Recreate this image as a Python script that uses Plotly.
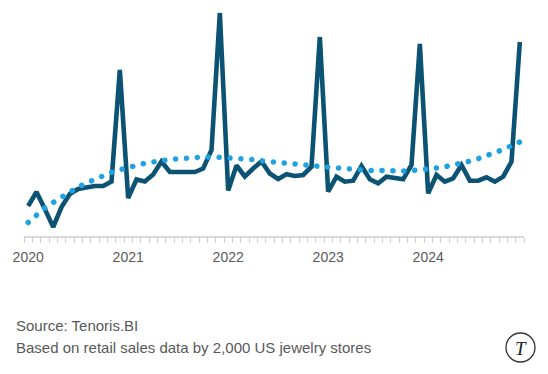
import plotly.graph_objects as go

# Monthly index Jan 2020 .. Dec 2024 (60 months)
months = list(range(60))
year_ticks = [0, 12, 24, 36, 48]
year_labels = ["2020", "2021", "2022", "2023", "2024"]

# Monthly jewelry sales (relative units)
sales = [30, 44, 27, 9, 29, 42, 47, 49, 50, 50, 54.5, 166,
         38, 56.5, 54.5, 61.5, 74.5, 64, 64, 64, 64, 67.5, 86, 223,
         45.5, 70.5, 59.5, 67.5, 74.5, 62.5, 57, 61.7, 60, 61, 69.3, 199,
         44.3, 59.3, 54.3, 55.3, 70, 56.7, 52.7, 59.3, 57.7, 56.7, 71, 192,
         42.7, 61, 54.3, 57.7, 71, 55.3, 55.3, 58.7, 54.3, 59.3, 74.3, 194]

# Trend line (dotted)
trend = [13.5, 21, 28, 33.5, 39, 43.5, 49, 53, 57, 60.5, 63.7, 66.2,
         68.8, 71, 72.7, 74, 75.6, 76.5, 77.2, 78.2, 78.7, 79, 79.2, 78.8,
         78.5, 78.1, 77.2, 76.3, 75.2, 74.6, 74, 73, 71.8, 71.1, 70.4, 69.6,
         68.7, 68, 67.3, 66.6, 66.1, 65.6, 65.2, 65, 65, 65.1, 65.3, 65.9,
         66.8, 68, 69.2, 70.8, 72.6, 74.8, 77.3, 80, 83, 86.5, 90.2, 94]

W, H = 548, 374
L, R, T, B = 24, 24, 0, 138
PW, PH = W - L - R, H - T - B


def px(x):
    return (x - L) / PW


def py(y):
    return (H - B - y) / PH


fig = go.Figure()
fig.add_trace(go.Scatter(x=months, y=sales, mode="lines",
                         line=dict(color="#0c5273", width=4.6),
                         hoverinfo="skip", showlegend=False))
fig.add_trace(go.Scatter(x=months, y=trend, mode="lines",
                         line=dict(color="#20a2e0", width=5.5, dash="3px,8px"),
                         hoverinfo="skip", showlegend=False))

fig.update_layout(
    width=W, height=H,
    margin=dict(l=L, r=R, t=T, b=B),
    paper_bgcolor="white", plot_bgcolor="white",
    font=dict(family="Liberation Sans, Arial, sans-serif", color="#595959"),
    xaxis=dict(range=[-0.5, 59.5], tickvals=year_ticks, ticktext=year_labels,
               ticks="", showgrid=False, zeroline=False,
               showline=True, linecolor="#d9d9d9", linewidth=1.5,
               tickfont=dict(size=14, color="#595959"),
               ticklabelstandoff=7,
               minor=dict(ticks="outside", tick0=-0.5, dtick=1, ticklen=5,
                          tickcolor="#d0d0d0", tickwidth=1, showgrid=False)),
    yaxis=dict(range=[0, 236], visible=False),
    annotations=[
        dict(text="Source: Tenoris.BI", xref="paper", yref="paper",
             x=px(14), y=py(325), xanchor="left", yanchor="middle",
             showarrow=False, font=dict(size=15, color="#595959")),
        dict(text="Based on retail sales data by 2,000 US jewelry stores",
             xref="paper", yref="paper", x=px(14), y=py(347),
             xanchor="left", yanchor="middle", showarrow=False,
             font=dict(size=15, color="#595959")),
        dict(text="<i>T</i>", xref="paper", yref="paper",
             x=px(520.5), y=py(348), xanchor="center", yanchor="middle",
             showarrow=False,
             font=dict(size=19, color="#222222", family="Liberation Serif, serif")),
    ],
    shapes=[dict(type="circle", xref="paper", yref="paper",
                 x0=px(506), x1=px(535), y0=py(362), y1=py(333),
                 line=dict(color="#333333", width=1.3))],
)

post = """
document.body.style.margin = '0';
document.body.style.padding = '0';
var gd = document.getElementsByClassName('plotly-graph-div')[0];
function styleDots(){
  var traces = gd.querySelectorAll('.scatterlayer .trace');
  if (traces.length > 1) {
    var p = traces[1].querySelector('path.js-line');
    if (p) { p.style.strokeLinecap = 'round'; p.style.strokeDasharray = '0.1px,10.8px'; }
  }
}
styleDots();
gd.on && gd.on('plotly_afterplot', styleDots);
"""

fig.write_html("out.html", post_script=post, config={"displayModeBar": False})
